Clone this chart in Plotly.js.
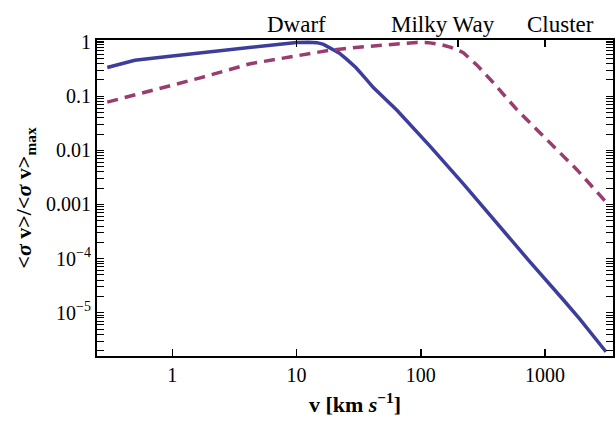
<!DOCTYPE html>
<html>
<head>
<meta charset="utf-8">
<script src="https://cdn.plot.ly/plotly-3.0.1.min.js"></script>
<style>html,body{margin:0;padding:0;background:#fff;}#plot{width:616px;height:422px;}</style>
</head>
<body>
<div id="plot"></div>
<script>
// Solid curve (blue)
const solidV = [0.3, 0.5, 1, 2, 5, 7, 10, 12.5, 14.6, 16.5, 18.6, 22, 25.4, 30, 34.7, 41.7, 64.3, 119, 220, 409, 759, 1406, 1905, 3090];
const solidY = [0.34, 0.464, 0.557, 0.66, 0.84, 0.92, 0.99, 1.0, 0.98, 0.91, 0.787, 0.63, 0.48, 0.34, 0.234, 0.143, 0.055, 0.0119, 2.4e-3, 4.5e-4, 8.6e-5, 1.72e-5, 7.6e-6, 1.9e-6];
// Dashed curve (magenta)
const dashV = [0.3, 0.5, 1, 1.68, 4.24, 10, 18.6, 30, 40, 60, 75, 93, 115, 143, 175, 220, 282, 363, 593, 1035, 1803, 3140];
const dashY = [0.078, 0.105, 0.16, 0.219, 0.40, 0.55, 0.71, 0.80, 0.85, 0.91, 0.96, 0.99, 0.98, 0.91, 0.80, 0.64, 0.38, 0.204, 0.0568, 0.0158, 4.4e-3, 1.07e-3];

const xTickVals = [1, 10, 100, 1000];
const xTickText = ['1', '10', '100', '1000'];
const yTickVals = [1, 0.1, 0.01, 0.001, 1e-4, 1e-5];
const yTickText = ['1', '0.1', '0.01', '0.001', '10<sup>\u22124</sup>', '10<sup>\u22125</sup>'];
const topTickVals = [10, 200, 1000];
const topLabels = ['Dwarf', 'Milky Way', 'Cluster'];
const topLabelX = [296, 443, 560];

const FONT = 'Liberation Serif, Times New Roman, Times, serif';
const xr = [Math.log10(0.248), Math.log10(3520)];

const traces = [
  {x: solidV, y: solidY, mode: 'lines', line: {color: '#3d3d9b', width: 3.5}, hoverinfo: 'skip', xaxis: 'x', yaxis: 'y'},
  {x: dashV, y: dashY, mode: 'lines', line: {color: '#993d70', width: 3.5, dash: '11px,7px'}, hoverinfo: 'skip', xaxis: 'x2', yaxis: 'y'}
];

const L = 97, R = 3, T = 40, B = 66, W = 616, H = 422;
const annotations = topLabels.map((t, i) => ({
  text: t, xref: 'paper', yref: 'paper',
  x: (topLabelX[i] - L) / (W - L - R), y: 1, yshift: 1,
  xanchor: 'center', yanchor: 'bottom', showarrow: false,
  font: {family: FONT, size: 23, color: '#000'}
}));

const layout = {
  width: W, height: H,
  margin: {l: L, r: R, t: T, b: B, pad: 0},
  paper_bgcolor: '#fff', plot_bgcolor: '#fff',
  showlegend: false,
  font: {family: FONT, size: 20, color: '#000'},
  xaxis: {
    type: 'log', range: xr, tickvals: xTickVals, ticktext: xTickText,
    ticks: 'inside', ticklen: 7, tickwidth: 1.5, tickcolor: '#000',
    showline: true, linewidth: 2, linecolor: '#000', mirror: false,
    showgrid: false, zeroline: false,
    tickfont: {family: FONT, size: 20},
    title: {text: '<b>v [km <i>s</i><sup>\u22121</sup>]</b>', font: {family: FONT, size: 22}, standoff: 12}
  },
  xaxis2: {
    type: 'log', range: xr, overlaying: 'x', side: 'top', anchor: 'y',
    tickvals: topTickVals, showticklabels: false,
    ticks: 'inside', ticklen: 7, tickwidth: 1.5, tickcolor: '#000',
    showline: true, linewidth: 2, linecolor: '#000',
    showgrid: false, zeroline: false
  },
  yaxis: {
    type: 'log', range: [-5.8, 0.04], tickvals: yTickVals, ticktext: yTickText,
    ticks: 'inside', ticklen: 7, tickwidth: 1.5, tickcolor: '#000',
    showline: true, linewidth: 2, linecolor: '#000', mirror: 'allticks',
    showgrid: false, zeroline: false,
    minor: {ticks: 'inside', ticklen: 3.5, tickwidth: 1, tickcolor: '#000', dtick: 'D1', showgrid: false},
    tickfont: {family: FONT, size: 20},
    title: {text: '<b>&lt;<i>\u03c3</i> v&gt;/&lt;<i>\u03c3</i> v&gt;<sub>max</sub></b>', font: {family: FONT, size: 22}, standoff: 8}
  },
  annotations: annotations
};

Plotly.newPlot('plot', traces, layout, {displayModeBar: false, staticPlot: true});
</script>
</body>
</html>
